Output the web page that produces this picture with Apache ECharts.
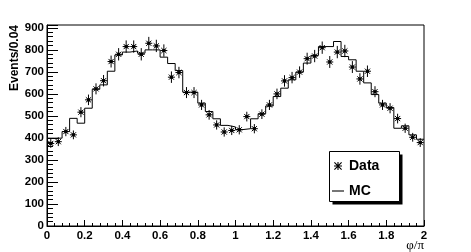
<!DOCTYPE html>
<html>
<head>
<meta charset="utf-8">
<script src="https://cdn.jsdelivr.net/npm/echarts@6/dist/echarts.min.js"></script>
<style>html,body{margin:0;padding:0;background:#fff}#c{width:471px;height:252px}</style>
</head>
<body>
<div id="c"></div>
<script>
// ---- data ----
const binWidth = 0.04;          // phi/pi per bin
const nBins = 50;
const dataValues = [375,383,429,414,517,573,623,660,747,780,
                    815,815,780,830,818,797,676,697,606,606,
                    550,505,459,427,434,437,497,442,508,550,
                    600,659,674,699,760,772,810,745,790,795,
                    722,668,703,610,550,535,488,444,403,379];
const dataErrors = [20,20,21,20,23,24,25,26,27,28,
                    28,28,28,29,28,28,26,26,25,25,
                    23,22,21,21,21,21,22,21,22,23,
                    24,26,26,26,27,28,28,27,28,28,
                    27,26,26,25,23,23,22,21,20,20];
const mcValues = [399,399,429,489,467,535,621,641,703,777,
                  790,795,785,800,800,767,738,706,608,608,
                  558,520,487,457,450,438,442,487,510,545,
                  588,626,664,699,740,775,815,815,838,770,
                  755,703,650,597,558,538,444,455,414,394];
const xTickLabels = ['0','0.2','0.4','0.6','0.8','1','1.2','1.4','1.6','1.8','2'];
const yTickLabels = ['0','100','200','300','400','500','600','700','800','900'];

// ---- build series data ----
const dataPoints = dataValues.map((v, i) => [(i + 0.5) * binWidth, v, dataErrors[i]]);
const mcPoints = mcValues.map((v, i) => [i * binWidth, v]);
mcPoints.push([nBins * binWidth, mcValues[mcValues.length - 1]]);

const starPath = 'path://M0,43L100,43L100,57L0,57Z M43,0L57,0L57,100L43,100Z M0,10L10,0L100,90L90,100Z M90,0L100,10L10,100L0,90Z M33,33L67,33L67,67L33,67Z';
const linePath = 'path://M0,0L100,0L100,9L0,9Z';

const chart = echarts.init(document.getElementById('c'), null, {renderer: 'canvas'});
const labelFont = {fontFamily: 'Liberation Sans, Arial, sans-serif', fontWeight: 'bold', fontSize: 11.5, color: '#000'};

chart.setOption({
  animation: false,
  backgroundColor: '#fff',
  grid: {left: 47, right: 47, top: 25, bottom: 26, show: true, borderColor: '#000', borderWidth: 1, backgroundColor: 'transparent'},
  xAxis: {
    type: 'value', min: 0, max: 2, interval: 0.2,
    axisLine: {show: true, onZero: false, lineStyle: {color: '#000', width: 1}},
    axisTick: {show: true, inside: true, length: 6, lineStyle: {color: '#000'}},
    minorTick: {show: true, splitNumber: 5, length: 3, lineStyle: {color: '#000'}},
    splitLine: {show: false},
    axisLabel: Object.assign({margin: 4, formatter: v => xTickLabels[Math.round(v / 0.2)] ?? ''}, labelFont)
  },
  yAxis: {
    type: 'value', min: 0, max: 913, interval: 100,
    axisLine: {show: true, lineStyle: {color: '#000', width: 1}},
    axisTick: {show: true, inside: true, length: 11, lineStyle: {color: '#000'}},
    minorTick: {show: true, splitNumber: 5, length: 6, lineStyle: {color: '#000'}},
    splitLine: {show: false},
    axisLabel: Object.assign({margin: 3, showMaxLabel: false, formatter: v => (v % 100 === 0 ? (yTickLabels[v / 100] ?? '') : '')}, labelFont)
  },
  legend: {
    orient: 'vertical', left: 332, top: 159, itemGap: 11, itemWidth: 12, itemHeight: 8,
    padding: 0, z: 20, selectedMode: false,
    textStyle: {fontFamily: 'Liberation Sans, Arial, sans-serif', fontWeight: 'bold', fontSize: 14, color: '#000'},
    data: [
      {name: 'Data', icon: starPath, itemStyle: {color: '#000'}},
      {name: 'MC', icon: linePath, itemStyle: {color: '#000', borderWidth: 0}}
    ]
  },
  graphic: [
    {type: 'rect', z: 10, shape: {x: 332.5, y: 154.5, width: 70, height: 50}, style: {fill: '#000'}},
    {type: 'rect', z: 11, shape: {x: 329.5, y: 151.5, width: 70, height: 50}, style: {fill: '#fff', stroke: '#000', lineWidth: 1}},
    {type: 'text', z: 12, x: 15, y: 25, rotation: Math.PI / 2,
     style: {text: 'Events/0.04', fontFamily: 'Liberation Sans, Arial, sans-serif', fontWeight: 'bold', fontSize: 12, fill: '#000', align: 'right', verticalAlign: 'middle'}},
    {type: 'text', z: 12, x: 424, y: 246,
     style: {text: 'φ/π', fontFamily: 'Liberation Serif, DejaVu Serif, serif', fontSize: 13, fill: '#000', align: 'right', verticalAlign: 'middle'}}
  ],
  series: [
    {
      name: 'MC', type: 'line', step: 'end', data: mcPoints, symbol: 'none',
      lineStyle: {color: '#000', width: 1}, itemStyle: {color: '#000'}, z: 2
    },
    {
      name: 'Data', type: 'custom', data: dataPoints, z: 3,
      itemStyle: {color: '#000'},
      encode: {x: 0, y: 1},
      renderItem: function (params, api) {
        const x = api.value(0), y = api.value(1), e = api.value(2);
        const c = api.coord([x, y]);
        const lo = api.coord([x, y - e]);
        const hi = api.coord([x, y + e]);
        const s = 3.5, d = 2.6;
        const st = {stroke: '#000', lineWidth: 1};
        return {
          type: 'group',
          children: [
            {type: 'line', shape: {x1: c[0], y1: lo[1], x2: c[0], y2: hi[1]}, style: st},
            {type: 'line', shape: {x1: c[0] - s, y1: c[1], x2: c[0] + s, y2: c[1]}, style: st},
            {type: 'line', shape: {x1: c[0] - d, y1: c[1] - d, x2: c[0] + d, y2: c[1] + d}, style: st},
            {type: 'line', shape: {x1: c[0] - d, y1: c[1] + d, x2: c[0] + d, y2: c[1] - d}, style: st},
            {type: 'rect', shape: {x: c[0] - 1.5, y: c[1] - 1.5, width: 3, height: 3}, style: {fill: '#000'}}
          ]
        };
      }
    }
  ]
});
</script>
</body>
</html>
